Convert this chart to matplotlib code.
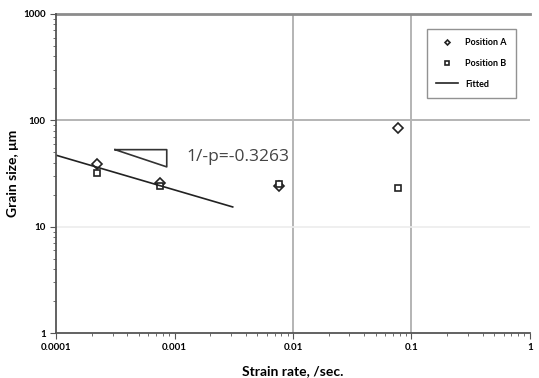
import numpy as np
import matplotlib
matplotlib.use("Agg")
import matplotlib.pyplot as plt

plt.rcParams['font.family'] = ['Lato', 'DejaVu Sans']

# measured data
rate = [0.00022, 0.00076, 0.0076, 0.077]
size_a = [39, 25.5, 24, 84]
size_b = [32, 24, 25, 23]

# fitted power law
fit_x = [0.0001, 0.0031]
fit_a = 47.0
fit_slope = -0.3263
fit_y = [fit_a * (x / 0.0001) ** fit_slope for x in fit_x]

# slope triangle
tri_x = [0.000315, 0.00086, 0.00086, 0.000315]
tri_y = [53, 53, 36.5, 53]

fig = plt.figure(figsize=(5.39, 3.78), dpi=100)
ax = fig.add_axes([0.104, 0.119, 0.879, 0.844])
ax.set_xscale('log')
ax.set_yscale('log')
ax.set_xlim(0.0001, 1)
ax.set_ylim(1, 1000)

# grid lines like the original
for gx in [0.01, 0.1]:
    ax.axvline(gx, color='#b4b4b4', lw=1.4, zorder=0)
ax.axhline(100, color='#b4b4b4', lw=1.4, zorder=0)
ax.axhline(10, color='#ececec', lw=1.2, zorder=0)
ax.axhline(1000, color='#8c8c8c', lw=2.0, zorder=0, clip_on=False)

ax.plot(rate, size_a, linestyle='none', marker='D', ms=5, mfc='white',
        mec='#222222', mew=1.2, label='Position A')
ax.plot(rate, size_b, linestyle='none', marker='s', ms=5, mfc='white',
        mec='#222222', mew=1.2, label='Position B')
ax.plot(fit_x, fit_y, color='#222222', lw=1.2, label='Fitted')
ax.plot(tri_x, tri_y, color='#333333', lw=1.2)
ax.text(0.00125, 45, '1/-p=-0.3263', fontsize=12.5, color='#444444', va='center',
        family=['Open Sans', 'DejaVu Sans'])

for s in ['top', 'right']:
    ax.spines[s].set_visible(False)
for s in ['left', 'bottom']:
    ax.spines[s].set_color('#555555')
    ax.spines[s].set_linewidth(1.3)

ax.tick_params(which='major', direction='out', length=4, color='#555555', labelsize=7)
ax.tick_params(which='minor', direction='out', length=2.5, color='#555555')
ax.set_xticks([0.0001, 0.001, 0.01, 0.1, 1])
ax.set_xticklabels(['0.0001', '0.001', '0.01', '0.1', '1'], fontweight='bold')
ax.set_yticks([1, 10, 100, 1000])
ax.set_yticklabels(['1', '10', '100', '1000'], fontweight='bold')
ax.xaxis.set_minor_formatter(matplotlib.ticker.NullFormatter())
ax.yaxis.set_minor_formatter(matplotlib.ticker.NullFormatter())

ax.set_ylabel('Grain size, \u03bcm', fontsize=10, fontweight='bold', labelpad=3)
ax.set_xlabel('Strain rate, /sec.', fontsize=10, fontweight='bold', labelpad=9)

leg = ax.legend(loc='upper right', bbox_to_anchor=(0.98, 0.967),
                prop={'weight': 'bold', 'size': 6.5}, frameon=True, fancybox=False,
                edgecolor='#777777', borderpad=1.0, labelspacing=1.3,
                handlelength=2.4, markerscale=0.5)
leg.get_frame().set_linewidth(1.0)

fig.savefig('out.png', dpi=100)
